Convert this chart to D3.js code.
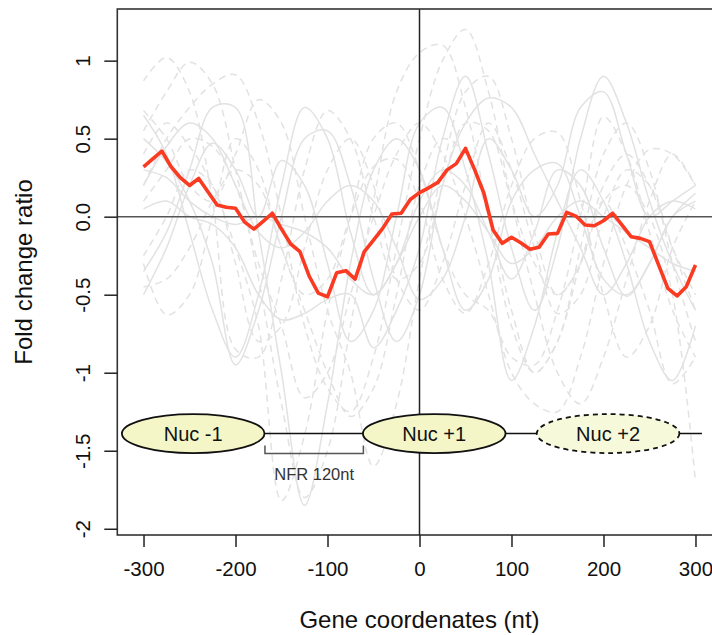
<!DOCTYPE html>
<html>
<head>
<meta charset="utf-8">
<script src="https://cdn.jsdelivr.net/npm/d3@7"></script>
<style>
  body { margin: 0; background: #fff; }
  svg { display: block; font-family: "Liberation Sans", Arial, sans-serif; }
</style>
</head>
<body>
<svg id="chart" width="712" height="635"></svg>
<script>
// x positions of the red profile (every 10 nt)
const redX = d3.range(-300, 301, 10)
const redY = [
  0.32, 0.37, 0.42, 0.32, 0.25, 0.20, 0.245, 0.16, 0.075, 0.06,
  0.054, -0.035, -0.08, -0.03, 0.022, -0.08, -0.175, -0.224, -0.38, -0.49,
  -0.513, -0.359, -0.346, -0.40, -0.224, -0.15, -0.075, 0.017, 0.022, 0.11,
  0.154, 0.185, 0.22, 0.30, 0.34, 0.438, 0.30, 0.15, -0.085, -0.171,
  -0.132, -0.167, -0.209, -0.196, -0.111, -0.107, 0.028, 0.004, -0.053, -0.058,
  -0.026, 0.022, -0.053, -0.128, -0.139, -0.16, -0.31, -0.459, -0.508, -0.449,
  -0.31
]

// background profiles, sampled every 25 nt
const grayX = d3.range(-300, 301, 25)
const grayLines = [
  { dashed: true,  y: [0.87, 1.02, 0.8, 0.1, -0.85, -0.9, -0.4, 0.3, 0.68, 0.5, 0.0, -0.4, -0.3, 0.2, 0.6, 0.55, 0.1, -0.3, -0.5, -0.3, 0.2, 0.4, 0.2, -0.2, -0.5] },
  { dashed: true,  y: [0.55, 0.8, 0.99, 0.85, 0.3, -0.4, -1.2, -1.8, -1.5, -0.7, 0.1, 0.8, 1.05, 1.1, 0.7, 0.0, -0.7, -1.0, -0.8, -0.2, 0.4, 0.6, 0.3, -0.3, -0.8] },
  { dashed: false, y: [-0.35, -0.1, 0.3, 0.7, 0.7, -0.1, -1.0, -1.85, -1.2, -0.3, 0.3, 0.5, 0.3, -0.2, -0.6, -0.4, 0.1, 0.3, 0.34, 0.0, -0.4, -0.5, -0.3, 0.0, 0.1] },
  { dashed: true,  y: [0.2, 0.5, 0.7, 0.85, 0.91, 0.6, 0.0, -0.7, -1.1, -1.25, -0.9, -0.2, 0.5, 1.0, 1.2, 0.8, 0.1, -0.5, -1.0, -1.2, -0.9, -0.4, 0.1, 0.4, 0.2] },
  { dashed: true,  y: [0.68, 0.5, 0.2, 0.1, 0.4, 0.75, 0.6, 0.0, -0.6, -1.0, -1.6, -1.2, -0.4, 0.3, 0.8, 0.9, 0.5, -0.1, -0.5, -0.3, 0.1, 0.2, 0.0, -0.5, -1.7] },
  { dashed: false, y: [0.5, 0.35, 0.1, -0.3, -0.95, -0.6, 0.0, 0.5, 0.55, 0.2, -0.4, -0.8, -0.5, 0.2, 0.6, 0.76, 0.7, 0.4, 0.1, -0.2, -0.5, -0.3, 0.0, 0.1, 0.05] },
  { dashed: false, y: [0.05, 0.1, 0.0, -0.05, -0.2, -0.5, -0.66, -0.62, -0.53, -0.5, -0.84, -0.6, -0.2, 0.5, 0.9, 0.4, -0.2, -0.6, -0.2, 0.5, 0.9, 0.6, 0.1, -0.3, -0.6] },
  { dashed: true,  y: [-0.3, -0.63, -0.5, 0.0, 0.5, 0.3, -0.2, -0.5, -0.4, 0.0, 0.32, 0.37, 0.1, -0.4, -0.62, -0.3, 0.2, 0.5, 0.54, 0.1, -0.5, -0.9, -0.7, -0.2, 0.1] },
  { dashed: false, y: [-0.5, -0.2, 0.2, 0.47, 0.3, 0.0, 0.36, 0.2, -0.3, -0.8, -0.6, 0.0, 0.6, 0.7, 0.3, -0.3, -1.05, -0.7, -0.1, 0.3, 0.1, -0.3, -0.8, -1.05, -0.7] },
  { dashed: true,  y: [0.4, 0.6, 0.45, 0.2, -0.2, -0.7, -1.82, -1.4, -0.6, 0.0, 0.5, 0.6, 0.3, -0.2, -0.5, -0.6, -0.9, -0.95, -0.6, 0.0, 0.64, 0.4, -0.1, -0.6, -0.9] },
  { dashed: false, y: [0.3, 0.25, 0.1, 0.0, -0.05, 0.0, -0.05, -0.1, -0.2, -0.4, -0.5, -0.3, 0.0, 0.2, 0.1, -0.1, -0.3, -0.2, 0.0, 0.1, 0.0, -0.1, -0.2, -0.3, -0.35] },
  { dashed: true,  y: [0.1, 0.3, 0.5, 0.45, 0.2, -0.3, -0.7, -1.16, -1.0, -0.5, 0.0, 0.4, 0.6, 0.4, 0.0, -0.5, -1.0, -1.2, -1.25, -0.9, -0.3, 0.2, 0.43, 0.4, 0.2] },
  { dashed: true,  y: [-0.25, 0.0, 0.3, 0.2, -0.3, -0.8, -0.7, -0.2, 0.3, 0.5, 0.2, -0.4, -0.6, -0.3, 0.2, 0.6, 0.3, -0.2, -0.62, -0.5, 0.0, 0.3, 0.2, -0.2, -0.6] },
  { dashed: false, y: [0.65, 0.4, -0.1, -0.6, -0.9, -0.5, 0.2, 0.7, 0.5, -0.1, -0.5, -0.3, 0.1, 0.3, 0.2, -0.1, -0.4, -0.1, 0.3, 0.2, -0.2, -0.51, -0.3, 0.0, 0.15] },
  { dashed: true,  y: [-0.45, -0.4, -0.2, 0.1, 0.3, 0.2, -0.2, -0.6, -1.0, -1.28, -1.1, -0.5, 0.2, 0.5, 0.4, 0.0, -0.6, -1.0, -0.8, -0.3, 0.1, -0.2, -0.6, -1.07, -0.9] },
  { dashed: false, y: [0.2, 0.45, 0.6, 0.5, 0.2, -0.1, -0.2, -0.1, 0.1, 0.2, 0.1, -0.2, -0.53, -0.4, 0.0, 0.5, 0.3, 0.0, 0.2, 0.7, 0.8, 0.4, 0.0, 0.1, 0.2] }
]

const xTicks = [-300, -200, -100, 0, 100, 200, 300]
const xTickLabels = ["-300", "-200", "-100", "0", "100", "200", "300"]
const yTicks = [-2, -1.5, -1, -0.5, 0, 0.5, 1]
const yTickLabels = ["-2", "-1.5", "-1", "-0.5", "0.0", "0.5", "1"]

// nucleosome cartoon (centres in nt)
const nucs = [
  { label: "Nuc -1", center: -246, dashed: false },
  { label: "Nuc +1", center: 16, dashed: false },
  { label: "Nuc +2", center: 205, dashed: true }
]
const nucLevel = -1.39
const nfr = { from: -168, to: -61, label: "NFR 120nt" }

const svg = d3.select('#chart')
const plotL = 117.3, plotR = 721.7, plotT = 9, plotB = 535

const x = d3.scaleLinear().domain([-328.5, 328.5]).range([plotL, plotR])
const y = d3.scaleLinear().domain([-2.04, 1.331]).range([plotB, plotT])

// gray lines
const grayLine = d3.line()
  .x((d, i) => x(grayX[i]))
  .y(d => y(d))
  .curve(d3.curveCatmullRom)

svg.append('g')
  .selectAll('path')
  .data(grayLines)
  .join('path')
  .attr('d', d => grayLine(d.y))
  .attr('fill', 'none')
  .attr('stroke', '#e2e2e2')
  .attr('stroke-width', 1.5)
  .attr('stroke-dasharray', d => d.dashed ? '7,5' : null)

// zero lines
svg.append('line')
  .attr('x1', plotL).attr('x2', plotR)
  .attr('y1', y(0)).attr('y2', y(0))
  .attr('stroke', '#555').attr('stroke-width', 1.6)
svg.append('line')
  .attr('x1', x(0)).attr('x2', x(0))
  .attr('y1', plotT).attr('y2', plotB)
  .attr('stroke', '#222').attr('stroke-width', 1.5)

// red profile
const redLine = d3.line()
  .x((d, i) => x(redX[i]))
  .y(d => y(d))

svg.append('path')
  .attr('d', redLine(redY))
  .attr('fill', 'none')
  .attr('stroke', '#fb3a22')
  .attr('stroke-width', 3.6)
  .attr('stroke-linejoin', 'round')

// nucleosome cartoon
const halfW = 77.5
const ry = 19.5
svg.append('line')
  .attr('x1', x(nucs[0].center)).attr('x2', x(307))
  .attr('y1', y(nucLevel)).attr('y2', y(nucLevel))
  .attr('stroke', '#111').attr('stroke-width', 1.5)

const nucG = svg.append('g')
  .selectAll('g')
  .data(nucs)
  .join('g')

nucG.append('ellipse')
  .attr('cx', d => x(d.center))
  .attr('cy', y(nucLevel))
  .attr('rx', d => x(d.center + halfW) - x(d.center))
  .attr('ry', ry)
  .attr('fill', d => d.dashed ? '#f6f9da' : '#f4f6c8')
  .attr('stroke', '#111')
  .attr('stroke-width', 1.8)
  .attr('stroke-dasharray', d => d.dashed ? '5,4' : null)

nucG.append('text')
  .attr('x', d => x(d.center))
  .attr('y', y(nucLevel) + 7)
  .attr('text-anchor', 'middle')
  .attr('font-size', 20)
  .attr('fill', '#111')
  .text(d => d.label)

// NFR bracket
const by = y(nucLevel) + 20
svg.append('path')
  .attr('d', `M${x(nfr.from)},${by - 8}V${by}H${x(nfr.to)}V${by - 8}`)
  .attr('fill', 'none')
  .attr('stroke', '#555')
  .attr('stroke-width', 1.5)
svg.append('text')
  .attr('x', (x(nfr.from) + x(nfr.to)) / 2)
  .attr('y', by + 26)
  .attr('text-anchor', 'middle')
  .attr('font-size', 16.5)
  .attr('fill', '#333')
  .text(nfr.label)

// box
svg.append('rect')
  .attr('x', plotL).attr('y', plotT)
  .attr('width', plotR - plotL).attr('height', plotB - plotT)
  .attr('fill', 'none')
  .attr('stroke', '#333')
  .attr('stroke-width', 1.6)

// axes
const xAxis = d3.axisBottom(x).tickValues(xTicks).tickSize(12).tickPadding(14)
  .tickFormat((d, i) => xTickLabels[i])
svg.append('g')
  .attr('transform', `translate(0,${plotB})`)
  .call(xAxis)
  .call(g => g.select('.domain').remove())
  .call(g => g.selectAll('line').attr('stroke', '#222').attr('stroke-width', 1.5))
  .call(g => g.selectAll('text').attr('font-size', 20.5).attr('fill', '#111')
    .attr('font-family', '"Liberation Sans", Arial, sans-serif'))

const yAxis = d3.axisLeft(y).tickValues(yTicks).tickSize(13)
  .tickFormat((d, i) => yTickLabels[i])
svg.append('g')
  .attr('transform', `translate(${plotL},0)`)
  .call(yAxis)
  .call(g => g.select('.domain').remove())
  .call(g => g.selectAll('line').attr('stroke', '#222').attr('stroke-width', 1.5))
  .call(g => g.selectAll('text')
    .attr('font-size', 20.5).attr('fill', '#111')
    .attr('font-family', '"Liberation Sans", Arial, sans-serif')
    .attr('text-anchor', 'middle')
    .attr('dy', null)
    .attr('x', null)
    .attr('transform', 'translate(-34,0) rotate(-90) translate(0,7)'))

// axis titles
svg.append('text')
  .attr('x', (plotL + plotR) / 2)
  .attr('y', 628)
  .attr('text-anchor', 'middle')
  .attr('font-size', 24)
  .attr('fill', '#111')
  .text('Gene coordenates (nt)')

svg.append('text')
  .attr('transform', `translate(32,${(plotT + plotB) / 2}) rotate(-90)`)
  .attr('text-anchor', 'middle')
  .attr('font-size', 24)
  .attr('fill', '#111')
  .text('Fold change ratio')
</script>
</body>
</html>
